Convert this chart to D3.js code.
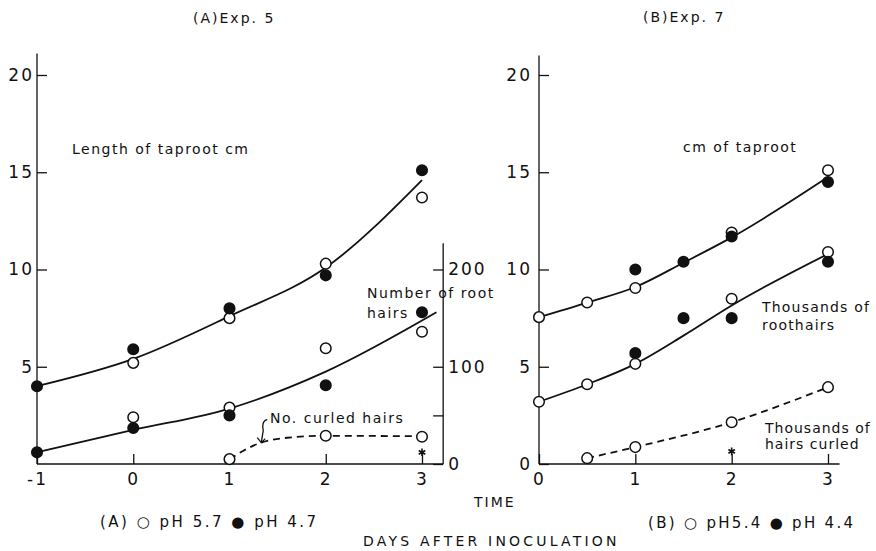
<!DOCTYPE html>
<html>
<head>
<meta charset="utf-8">
<script src="https://cdn.jsdelivr.net/npm/d3@7"></script>
<style>
  body { margin: 0; background: #fff; }
  svg text { font-family: 'DejaVu Sans', sans-serif; fill: #111; }
</style>
</head>
<body>
<div id="chart"></div>
<script>
// (A) Exp. 5 -- pH 5.7 open, pH 4.7 filled
const daysA = [-1, 0, 1, 2, 3];
const tapA57 = [null, 5.2, 7.5, 10.3, 13.7];
const tapA47 = [4.0, 5.9, 8.0, 9.7, 15.1];
const hairsA57 = [null, 48, 58, 119, 136];
const hairsA47 = [12, 37, 50, 81, 156];
const curledDaysA = [1, 2, 3];
const curledA = [5, 29, 28];
// fitted curves
const tapFitDaysA = [-1, 0, 1, 2, 3];
const tapFitA = [4.0, 5.4, 7.6, 10.1, 14.6];
const hairsFitDaysA = [-1, 0, 1, 2, 3.15];
const hairsFitA = [12, 35, 57, 95, 156];
const curledFitDaysA = [1, 1.3, 1.6, 2, 3];
const curledFitA = [5, 21, 27, 29, 28.5];

// (B) Exp. 7 -- pH 5.4 open, pH 4.4 filled
const daysB57 = [0, 0.5, 1, 2, 3];
const tapB54 = [7.55, 8.3, 9.05, 11.9, 15.1];
const hairsB54 = [3.2, 4.1, 5.15, 8.5, 10.9];
const daysB44 = [1, 1.5, 2, 3];
const tapB44 = [10.0, 10.4, 11.7, 14.5];
const hairsB44 = [5.7, 7.5, 7.5, 10.4];
const curledDaysB = [0.5, 1, 2, 3];
const curledB = [0.3, 0.87, 2.15, 3.95];
const tapFitDaysB = [0, 0.5, 1, 1.5, 2, 3];
const tapFitB = [7.55, 8.3, 9.1, 10.35, 11.65, 14.75];
const hairsFitDaysB = [0, 0.5, 1, 1.5, 2, 3];
const hairsFitB = [3.2, 4.1, 5.15, 6.6, 8.15, 10.8];

const yTicks = [0, 5, 10, 15, 20];
const hairTicks = [0, 50, 100, 200];

const width = 876, height = 551;
const svg = d3.select('#chart').append('svg')
  .attr('width', width).attr('height', height);

const y = d3.scaleLinear().domain([0, 20]).range([464, 75]);
const y2 = d3.scaleLinear().domain([0, 200]).range([464, 75 + (464 - 75) / 2]);
const xA = d3.scaleLinear().domain([-1, 3]).range([37, 422]);
const xB = d3.scaleLinear().domain([0, 3]).range([539, 828]);

const ink = '#111';
const zip = (xs, ys) => xs.map((d, i) => [d, ys[i]]).filter(p => p[1] != null);

function axisStyle(g) {
  g.select('.domain').remove();
  g.selectAll('line').attr('stroke', ink).attr('stroke-width', 1.3);
  g.selectAll('text').attr('font-size', 17).attr('fill', ink)
    .style('letter-spacing', '2px');
}

function line(g, x, yy, pts, dashed) {
  g.append('path')
    .datum(pts)
    .attr('fill', 'none')
    .attr('stroke', ink)
    .attr('stroke-width', 1.8)
    .attr('stroke-dasharray', dashed ? '7,5' : null)
    .attr('d', d3.line().x(d => x(d[0])).y(d => yy(d[1])).curve(d3.curveMonotoneX));
}

function dots(g, x, yy, pts, filled) {
  g.selectAll(null).data(pts).enter().append('circle')
    .attr('cx', d => x(d[0])).attr('cy', d => yy(d[1]))
    .attr('r', 5.3)
    .attr('fill', filled ? ink : '#fff')
    .attr('stroke', ink).attr('stroke-width', 1.5);
}

function star(g, cx, cy) {
  g.append('path')
    .attr('transform', `translate(${cx},${cy})`)
    .attr('d', d3.symbol(d3.symbolAsterisk, 40)())
    .attr('fill', 'none').attr('stroke', ink).attr('stroke-width', 1.6);
}

function label(txt, x0, y0, size, spacing) {
  svg.append('text').attr('x', x0).attr('y', y0)
    .attr('font-size', size || 14)
    .style('letter-spacing', (spacing == null ? 1.5 : spacing) + 'px')
    .text(txt);
}

// ---------- panel A ----------
const gA = svg.append('g');
gA.append('line').attr('x1', xA(-1)).attr('x2', xA(-1)).attr('y1', y(0)).attr('y2', y(21.1))
  .attr('stroke', ink).attr('stroke-width', 1.3);
gA.append('line').attr('x1', xA(-1)).attr('x2', xA(3.22)).attr('y1', y(0)).attr('y2', y(0))
  .attr('stroke', ink).attr('stroke-width', 1.3);
gA.append('line').attr('x1', xA(3.22)).attr('x2', xA(3.22)).attr('y1', y2(0)).attr('y2', y2(227))
  .attr('stroke', ink).attr('stroke-width', 1.3);

gA.append('g').attr('transform', `translate(${xA(-1)},0)`)
  .call(d3.axisLeft(y).tickValues(yTicks.filter(d => d > 0)).tickSizeInner(-10).tickSizeOuter(0).tickPadding(3))
  .call(axisStyle);
gA.append('g').attr('transform', `translate(0,${y(0)})`)
  .call(d3.axisBottom(xA).tickValues(daysA).tickSizeInner(-10).tickSizeOuter(0).tickPadding(9)
    .tickFormat(d => d < 0 ? '-' + Math.abs(d) : d))
  .call(axisStyle);
gA.append('g').attr('transform', `translate(${xA(3.22)},0)`)
  .call(d3.axisRight(y2).tickValues(hairTicks).tickSizeInner(-10).tickSizeOuter(0).tickPadding(5)
    .tickFormat(d => d === 50 ? '' : d))
  .call(axisStyle);

line(gA, xA, y, zip(tapFitDaysA, tapFitA));
line(gA, xA, y2, zip(hairsFitDaysA, hairsFitA));
line(gA, xA, y2, zip(curledFitDaysA, curledFitA), true);
dots(gA, xA, y, zip(daysA, tapA57), false);
dots(gA, xA, y, zip(daysA, tapA47), true);
dots(gA, xA, y2, zip(daysA, hairsA57), false);
dots(gA, xA, y2, zip(daysA, hairsA47), true);
dots(gA, xA, y2, zip(curledDaysA, curledA), false);
star(gA, xA(3), y2(12));

// curly arrow to the curled-hairs curve
const tipX = xA(1.33), tipY = y2(22);
gA.append('path')
  .attr('d', `M${tipX + 6},${tipY - 23} C${tipX + 1},${tipY - 22} ${tipX + 1},${tipY - 16} ${tipX + 2},${tipY - 12} L${tipX},${tipY}`)
  .attr('fill', 'none').attr('stroke', ink).attr('stroke-width', 1.3);
gA.append('path')
  .attr('d', `M${tipX - 4},${tipY - 5} L${tipX},${tipY} L${tipX + 4},${tipY - 4}`)
  .attr('fill', 'none').attr('stroke', ink).attr('stroke-width', 1.3);

label('(A)Exp.  5', 193, 23, 14, 2);
label('Length of taproot cm', 72, 154);
label('No. curled hairs', 270, 423);
label('Number of root', 367, 298);
label('hairs', 367, 318);
label('(A)  \u25CB pH 5.7   \u25CF pH 4.7', 100, 527, 15, 2.5);

// ---------- panel B ----------
const gB = svg.append('g');
gB.append('line').attr('x1', xB(0)).attr('x2', xB(0)).attr('y1', y(0)).attr('y2', y(21))
  .attr('stroke', ink).attr('stroke-width', 1.3);
gB.append('line').attr('x1', xB(0)).attr('x2', xB(3.12)).attr('y1', y(0)).attr('y2', y(0))
  .attr('stroke', ink).attr('stroke-width', 1.3);

gB.append('g').attr('transform', `translate(${xB(0)},0)`)
  .call(d3.axisLeft(y).tickValues(yTicks).tickSizeInner(-10).tickSizeOuter(0).tickPadding(7))
  .call(axisStyle);
gB.append('g').attr('transform', `translate(0,${y(0)})`)
  .call(d3.axisBottom(xB).tickValues([0, 1, 2, 3]).tickSizeInner(-10).tickSizeOuter(0).tickPadding(9)
    .tickFormat(d3.format('d')))
  .call(axisStyle);

line(gB, xB, y, zip(tapFitDaysB, tapFitB));
line(gB, xB, y, zip(hairsFitDaysB, hairsFitB));
line(gB, xB, y, zip(curledDaysB, curledB), true);
dots(gB, xB, y, zip(daysB57, tapB54), false);
dots(gB, xB, y, zip(daysB44, tapB44), true);
dots(gB, xB, y, zip(daysB57, hairsB54), false);
dots(gB, xB, y, zip(daysB44, hairsB44), true);
dots(gB, xB, y, zip(curledDaysB, curledB), false);
star(gB, xB(2), y(0.65));

label('(B)Exp.  7', 643, 22, 14, 2);
label('cm  of taproot', 683, 152);
label('Thousands of', 762, 312, 14, 1.2);
label('roothairs', 762, 330, 14, 1.2);
label('Thousands of', 765, 433, 14, 1);
label('hairs curled', 765, 449, 14, 1);
label('(B) \u25CB pH5.4   \u25CF pH 4.4', 648, 528, 15, 2.3);

// shared labels
label('TIME', 474, 507, 14, 2);
label('DAYS AFTER INOCULATION', 363, 546, 14, 3.2);
</script>
</body>
</html>
